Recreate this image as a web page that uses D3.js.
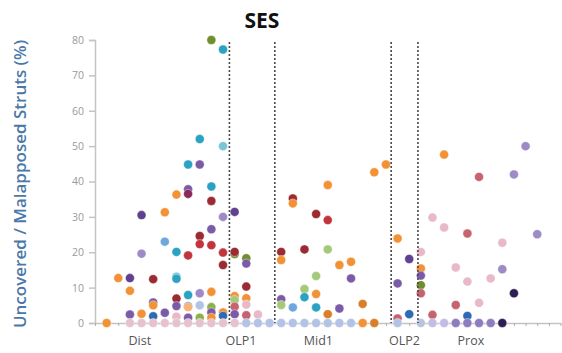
<!DOCTYPE html>
<html lang="en">
<head>
<meta charset="UTF-8">
<title>SES</title>
<style>
  body { margin: 0; background: #fff; }
  svg { display: block; }
  .tick text { font-family: "Open Sans", sans-serif; }
</style>
</head>
<body>
<div id="chart"></div>
<script src="https://cdn.jsdelivr.net/npm/d3@7"></script>
<script>
  // colour keys used by the points
  var colors = {
    orange: "#f39235", darkOrange: "#d97f2a", purple: "#7b5ba8", darkPurple: "#61408f",
    lavender: "#9d8ac7", teal: "#2ba2c2", lightTeal: "#7cc5d9", darkRed: "#9c2a33",
    red: "#c2353d", magenta: "#8b2a5a", olive: "#6f8f2e", green: "#8ab24b",
    lightGreen: "#a5c97a", blue: "#2d6cb4", skyBlue: "#6fa7dc", lightBlue: "#b2c3e6",
    greyBlue: "#b9c4dc", pink: "#e6c3cc", lightPink: "#e8b9c6", rose: "#c6636f",
    lightLavender: "#c3bce3", mauve: "#8e7cc0", navy: "#2e1f52", lightOrange: "#f7b27a"
  }

  // [position, value %, colour]
  var dist = [
    [1, 0, "orange"],
    [2, 12.7, "orange"],
    [3, 12.7, "darkPurple"], [3, 9.1, "orange"], [3, 2.4, "purple"], [3, 0, "pink"],
    [4, 30.5, "darkPurple"], [4, 19.6, "lavender"], [4, 2.6, "orange"], [4, 0, "pink"],
    [5, 12.4, "darkRed"], [5, 5.8, "purple"], [5, 5.0, "orange"], [5, 1.9, "blue"], [5, 0, "pink"],
    [6, 31.3, "orange"], [6, 23, "skyBlue"], [6, 2.9, "purple"], [6, 0, "pink"],
    [7, 36.3, "orange"], [7, 20.1, "teal"], [7, 13.1, "lightTeal"], [7, 12.5, "teal"], [7, 6.9, "darkRed"], [7, 4.8, "purple"], [7, 1.8, "lightPink"], [7, 0, "pink"],
    [8, 44.8, "teal"], [8, 37.8, "purple"], [8, 36.5, "magenta"], [8, 19.1, "red"], [8, 7.9, "teal"], [8, 4.7, "blue"], [8, 4.5, "lightOrange"], [8, 1.5, "purple"], [8, 0, "pink"],
    [9, 52, "teal"], [9, 44.8, "purple"], [9, 24.6, "darkRed"], [9, 22.3, "red"], [9, 8.4, "lavender"], [9, 5, "lightBlue"], [9, 1.5, "green"], [9, 0, "pink"],
    [10, 80, "olive"], [10, 38.6, "teal"], [10, 34.5, "darkRed"], [10, 26.5, "purple"], [10, 22, "red"], [10, 8.8, "orange"], [10, 4.5, "green"], [10, 3, "purple"], [10, 1.5, "orange"], [10, 0, "pink"],
    [11, 77.3, "teal"], [11, 50, "lightTeal"], [11, 30, "lavender"], [11, 19.9, "red"], [11, 16.4, "darkRed"], [11, 3, "orange"], [11, 2, "blue"], [11, 0, "pink"]
  ]

  var olp1 = [
    [12, 31.4, "darkPurple"], [12, 19.5, "olive"], [12, 20.1, "darkRed"], [12, 7.6, "orange"], [12, 6.5, "lightGreen"], [12, 4.6, "rose"], [12, 2.5, "purple"], [12, 0, "pink"],
    [13, 18.3, "olive"], [13, 16.8, "purple"], [13, 10.3, "darkRed"], [13, 7, "orange"], [13, 5.2, "lightPink"], [13, 2.2, "rose"], [13, 0, "lightBlue"],
    [14, 2.4, "lightPink"], [14, 0, "lightBlue"],
    [15, 0, "lightBlue"]
  ]

  var mid1 = [
    [16, 20.1, "darkRed"], [16, 17.8, "orange"], [16, 6.7, "purple"], [16, 5.1, "lightGreen"], [16, 0, "lightBlue"],
    [17, 35.2, "darkRed"], [17, 33.8, "orange"], [17, 4.4, "skyBlue"], [17, 0, "lightBlue"],
    [18, 20.8, "darkRed"], [18, 9.6, "lightGreen"], [18, 7.3, "teal"], [18, 0, "lightBlue"],
    [19, 30.8, "darkRed"], [19, 13.3, "lightGreen"], [19, 8.2, "orange"], [19, 4.4, "teal"], [19, 0, "lightBlue"],
    [20, 39, "orange"], [20, 29.1, "red"], [20, 20.8, "lightGreen"], [20, 2.5, "darkOrange"], [20, 0, "lightBlue"],
    [21, 16.4, "orange"], [21, 4.1, "purple"], [21, 0, "lightBlue"],
    [22, 17.3, "orange"], [22, 12.6, "purple"], [22, 0, "lightBlue"],
    [23, 5.4, "darkOrange"], [23, 0, "orange"],
    [24, 42.6, "orange"], [24, 0, "darkOrange"],
    [25, 44.8, "orange"]
  ]

  var olp2 = [
    [26, 23.9, "orange"], [26, 11.2, "purple"], [26, 1.3, "rose"], [26, 0, "lightBlue"],
    [27, 18.1, "darkPurple"], [27, 2.5, "blue"],
    [28, 20.1, "lightPink"], [28, 15.4, "orange"], [28, 13.4, "purple"], [28, 10.7, "olive"], [28, 8.4, "rose"], [28, 0, "greyBlue"]
  ]

  var prox = [
    [29, 29.8, "lightPink"], [29, 2.3, "rose"], [29, 0, "lightLavender"],
    [30, 47.6, "orange"], [30, 27, "lightPink"], [30, 0, "lightLavender"],
    [31, 15.7, "lightPink"], [31, 5.1, "rose"], [31, 0, "mauve"],
    [32, 25.3, "rose"], [32, 11.7, "lightPink"], [32, 2, "blue"], [32, 0, "mauve"],
    [33, 41.3, "rose"], [33, 5.7, "lightPink"], [33, 0, "mauve"],
    [34, 12.6, "lightPink"], [34, 0, "mauve"],
    [35, 22.7, "lightPink"], [35, 15.2, "lavender"], [35, 0, "navy"],
    [36, 42, "lavender"], [36, 8.4, "navy"],
    [37, 50, "lavender"],
    [38, 25.1, "lavender"]
  ]

  var yTicks = [0, 10, 20, 30, 40, 50, 60, 70, 80]
  var dividers = [11.55, 15.45, 25.45, 27.75]
  var segmentNames = ["Dist", "OLP1", "Mid1", "OLP2", "Prox"]
  var segmentCenters = [3.85, 12.55, 19.2, 26.6, 32.3]

  var width = 562, height = 353
  var x = d3.scaleLinear().domain([0, 40]).range([95, 560.5])
  var y = d3.scaleLinear().domain([0, 80]).range([323, 40])

  var svg = d3.select("#chart").append("svg")
      .attr("width", width)
      .attr("height", height)

  // title
  svg.append("text")
      .attr("x", 262)
      .attr("y", 28)
      .attr("text-anchor", "middle")
      .style("font", "bold 21px 'Open Sans', sans-serif")
      .style("fill", "#111")
      .text("SES")

  // y axis label
  svg.append("text")
      .attr("transform", "translate(26," + 184 + ") rotate(-90)")
      .attr("text-anchor", "middle")
      .style("font", "600 17px 'Open Sans', sans-serif")
      .style("fill", "#4a78a8")
      .text("Uncovered / Malapposed Struts (%)")

  // y axis
  var yAxis = svg.append("g")
      .attr("transform", "translate(95,0)")
      .call(d3.axisLeft(y).tickValues(yTicks).tickSize(6).tickPadding(5))
  yAxis.select(".domain").attr("stroke", "#c4c4c4").attr("stroke-width", 1.5)
  yAxis.selectAll(".tick line").attr("stroke", "#c4c4c4").attr("stroke-width", 1.5)
  yAxis.selectAll(".tick text").style("font-size", "10.5px").style("fill", "#9a9a9a")

  // x axis, one small tick per position
  var xAxis = svg.append("g")
      .attr("transform", "translate(0,323)")
      .call(d3.axisBottom(x).tickValues(d3.range(0, 41)).tickSize(3).tickSizeOuter(0).tickFormat(""))
  xAxis.select(".domain").attr("stroke", "#c4c4c4").attr("stroke-width", 1.5)
  xAxis.selectAll(".tick line").attr("stroke", "#b0b0b0").attr("stroke-width", 1)

  // segment labels
  svg.selectAll(".segment")
      .data(segmentNames)
    .enter().append("text")
      .attr("class", "segment")
      .attr("x", function(d, i) { return x(segmentCenters[i]); })
      .attr("y", 345)
      .attr("text-anchor", "middle")
      .style("font", "12.5px 'Open Sans', sans-serif")
      .style("fill", "#555")
      .text(function(d) { return d; })

  // points
  var points = dist.concat(olp1, mid1, olp2, prox)
  svg.append("g")
    .selectAll("circle")
      .data(points)
    .enter().append("circle")
      .attr("cx", function(d) { return x(d[0]); })
      .attr("cy", function(d) { return y(d[1]); })
      .attr("r", 4.5)
      .attr("fill", function(d) { return colors[d[2]]; })
      .attr("stroke", "#fff")
      .attr("stroke-opacity", 0.5)
      .attr("stroke-width", 0.8)

  // dotted separators
  svg.append("g")
    .selectAll("line")
      .data(dividers)
    .enter().append("line")
      .attr("x1", function(d) { return x(d); })
      .attr("x2", function(d) { return x(d); })
      .attr("y1", 42)
      .attr("y2", 323)
      .attr("stroke", "#4a4a4a")
      .attr("stroke-width", 1.6)
      .attr("stroke-dasharray", "2,2")
</script>
</body>
</html>
